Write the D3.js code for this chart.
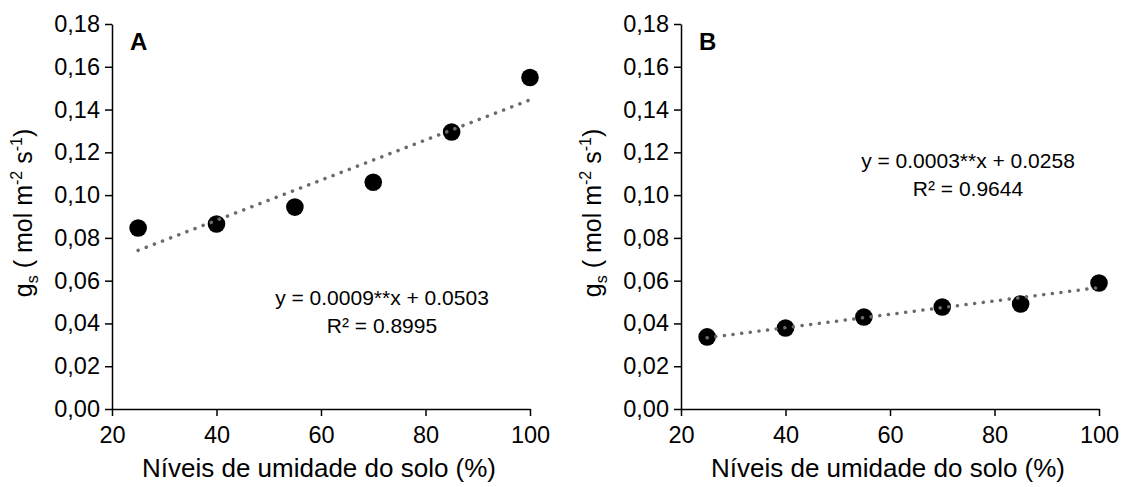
<!DOCTYPE html>
<html>
<head>
<meta charset="utf-8">
<script src="https://d3js.org/d3.v7.min.js"></script>
<style>
  body { margin: 0; background: white; }
  text { font-family: "Liberation Sans", Arial, sans-serif; }
</style>
</head>
<body>
<script>
  // data
  const moisture = [25, 40, 55, 70, 85, 100];
  const gsA = [0.0846, 0.0865, 0.0944, 0.106, 0.1295, 0.155];
  const gsB = [0.0337, 0.0379, 0.043, 0.0477, 0.0491, 0.0589];
  const xTicks = [20, 40, 60, 80, 100];
  const yTicks = [0, 0.02, 0.04, 0.06, 0.08, 0.10, 0.12, 0.14, 0.16, 0.18];
  const eqA = ["y = 0.0009**x + 0.0503", "R² = 0.8995"];
  const eqB = ["y = 0.0003**x + 0.0258", "R² = 0.9644"];

  const W = 1122, H = 487;
  const svg = d3.select("body").append("svg")
    .attr("width", W)
    .attr("height", H);

  // least squares line for the dotted trend
  function fit(xs, ys) {
    const mx = d3.mean(xs), my = d3.mean(ys);
    let sxy = 0, sxx = 0;
    xs.forEach((x, i) => { sxy += (x - mx) * (ys[i] - my); sxx += (x - mx) ** 2; });
    const b = sxy / sxx;
    return { b: b, a: my - b * mx };
  }

  function panel(left, values, label, eq, eqX, eqY) {
    const x = d3.scaleLinear().domain([20, 100]).range([left, left + 418]);
    const y = d3.scaleLinear().domain([0, 0.18]).range([409, 24]);
    const g = svg.append("g");

    // axes
    const xAxis = g.append("g")
      .attr("transform", "translate(0,409)")
      .call(d3.axisBottom(x).tickValues(xTicks).tickSize(7).tickSizeOuter(0).tickPadding(8));
    const yAxis = g.append("g")
      .attr("transform", `translate(${left},0)`)
      .call(d3.axisLeft(y).tickValues(yTicks).tickSize(7).tickSizeOuter(0).tickPadding(5)
        .tickFormat(d => d3.format(".2f")(d).replace(".", ",")));
    [xAxis, yAxis].forEach(a => {
      a.select(".domain").attr("stroke", "black").attr("stroke-width", 1.5);
      a.selectAll(".tick line").attr("stroke", "black").attr("stroke-width", 1.5);
      a.selectAll(".tick text").attr("fill", "black").style("font-size", "23.5px")
        .style("font-family", "Liberation Sans, Arial, sans-serif");
    });
    xAxis.selectAll(".tick text").attr("dy", "0.8em");

    // points
    g.selectAll("circle.pt").data(moisture).join("circle")
      .attr("class", "pt")
      .attr("cx", d => x(d))
      .attr("cy", (d, i) => y(values[i]))
      .attr("r", 8.8)
      .attr("fill", "black");

    // trend line
    const f = fit(moisture, values);
    const ends = [moisture[0], moisture[moisture.length - 1]];
    g.append("path")
      .attr("d", d3.line().x(d => x(d)).y(d => y(f.a + f.b * d))(ends))
      .attr("fill", "none")
      .attr("stroke", "#6b6b6b")
      .attr("stroke-width", 3.5)
      .attr("stroke-linecap", "round")
      .attr("stroke-dasharray", "0.1 8.6");

    // panel letter
    g.append("text")
      .attr("x", left + 18).attr("y", 50)
      .style("font-size", "24px").style("font-weight", "bold")
      .text(label);

    // equation
    eq.forEach((t, i) => {
      g.append("text")
        .attr("x", eqX).attr("y", eqY + i * 28)
        .attr("text-anchor", "middle")
        .style("font-size", "21px")
        .text(t);
    });

    // x title
    g.append("text")
      .attr("x", (x.range()[0] + x.range()[1]) / 2 - 2).attr("y", 477)
      .attr("text-anchor", "middle")
      .style("font-size", "26px")
      .text("Níveis de umidade do solo (%)");

    // y title
    const yt = g.append("text")
      .attr("transform", `translate(${left - 80},213) rotate(-90)`)
      .attr("text-anchor", "middle")
      .style("font-size", "25px");
    yt.append("tspan").text("g");
    yt.append("tspan").attr("dy", 6).style("font-size", "16px").text("s");
    yt.append("tspan").attr("dy", -6).text(" ( mol m");
    yt.append("tspan").attr("dy", -10).style("font-size", "16px").text("-2");
    yt.append("tspan").attr("dy", 10).text(" s");
    yt.append("tspan").attr("dy", -10).style("font-size", "16px").text("-1");
    yt.append("tspan").attr("dy", 10).text(")");
  }

  panel(112, gsA, "A", eqA, 382, 305);
  panel(681, gsB, "B", eqB, 968, 168);
</script>
</body>
</html>
